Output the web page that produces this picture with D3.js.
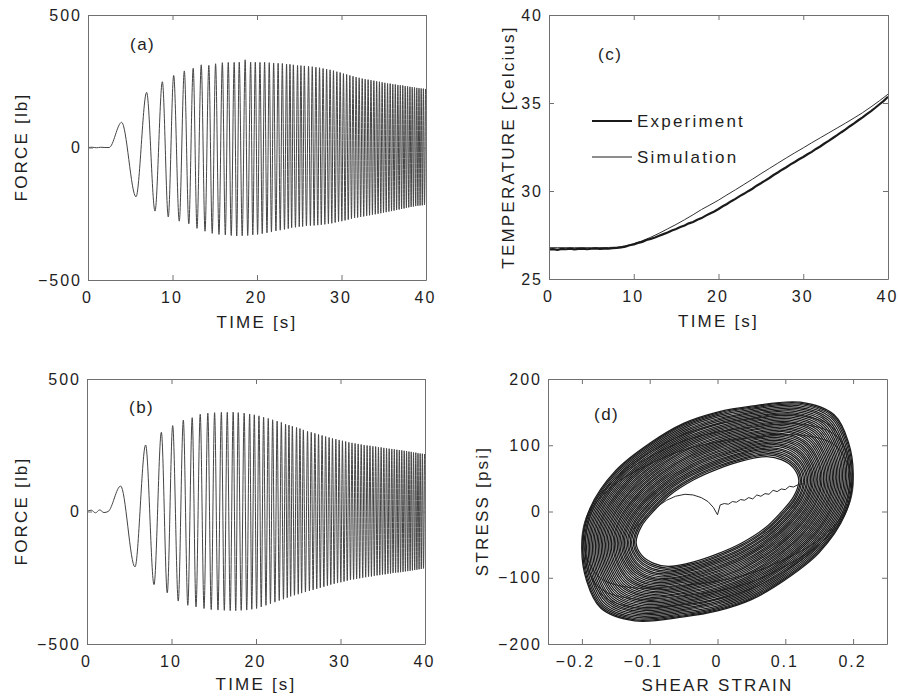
<!DOCTYPE html>
<html><head><meta charset="utf-8">
<script src="https://cdn.jsdelivr.net/npm/d3@7"></script>
<style>
body{margin:0;background:#fff;}
svg text{font-family:"Liberation Sans",Arial,Helvetica,sans-serif;fill:#1e1e1e;}
</style></head><body><svg id="c" width="898" height="698"></svg>
<script>
// ---------- DATA ----------
// Panels (a),(b): force vs time, drawn through the extrema of the swept sine
const preTimes = [0, 0.5, 1.0, 1.5, 2.0, 2.5];
const preForceA = [0, 1, -1, 1, 0, 0];
const preForceB = [0, 5, -5, 6, -4, 0];

const maxTimes = [3.98, 6.94, 8.8, 10.14, 11.4, 12.45, 13.4, 14.3, 15.1, 15.9,
  16.6, 17.3, 17.9, 18.6, 19.25, 19.8, 20.35, 20.9, 21.45, 21.97,
  22.5, 23.0, 23.5, 23.9, 24.3, 24.8, 25.2, 25.6, 26.1,
  26.54, 26.97, 27.40, 27.82, 28.24, 28.65, 29.05, 29.45, 29.84, 30.23,
  30.61, 30.99, 31.36, 31.73, 32.09, 32.45, 32.80, 33.15, 33.49, 33.83,
  34.16, 34.49, 34.81, 35.13, 35.45, 35.76, 36.07, 36.37, 36.67, 36.96,
  37.25, 37.54, 37.82, 38.10, 38.37, 38.64, 38.91, 39.17, 39.43, 39.69, 39.94];
const minTimes = [5.68, 7.93, 9.5, 10.8, 11.93, 12.9, 13.85, 14.7, 15.5, 16.25,
  16.95, 17.6, 18.25, 18.9, 19.5, 20.07, 20.62, 21.18, 21.71, 22.24,
  22.75, 23.25, 23.7, 24.1, 24.55, 25.0, 25.4, 25.85,
  26.32, 26.76, 27.19, 27.61, 28.03, 28.45, 28.85, 29.25, 29.65, 30.04,
  30.42, 30.80, 31.18, 31.55, 31.91, 32.27, 32.63, 32.98, 33.32, 33.66,
  34.0, 34.33, 34.65, 34.97, 35.29, 35.61, 35.92, 36.22, 36.52, 36.82,
  37.11, 37.40, 37.68, 37.96, 38.24, 38.51, 38.78, 39.04, 39.30, 39.56, 39.82];

const maxForceA = [95, 208, 248, 272, 289, 299, 312, 310, 316, 320,
  321, 321, 322, 331, 322, 322, 321, 322, 320, 319,
  318, 317, 315, 314, 312, 310, 309, 308, 307,
  305, 303, 301, 298, 296, 293, 290, 286, 283, 279,
  276, 272, 269, 266, 263, 260, 258, 256, 254, 252,
  250, 248, 246, 244, 242, 241, 239, 238, 236, 235,
  234, 232, 231, 229, 228, 227, 225, 224, 223, 222, 221];
const minForceA = [-186, -240, -262, -278, -288, -305, -316, -324, -328, -330,
  -332, -334, -333, -332, -330, -328, -325, -322, -319, -315,
  -312, -309, -306, -303, -301, -299, -298, -296,
  -295, -294, -293, -292, -290, -288, -286, -283, -280, -278,
  -275, -272, -269, -266, -264, -262, -260, -258, -256, -254,
  -252, -250, -248, -246, -244, -242, -240, -238, -236, -234,
  -232, -230, -228, -226, -224, -223, -221, -220, -219, -218, -217];

const maxForceB = [96, 251, 299, 324, 345, 354, 367, 371, 373, 374,
  374, 375, 373, 371, 368, 365, 361, 356, 351, 346,
  341, 336, 330, 326, 322, 317, 313, 308, 303,
  299, 295, 291, 287, 283, 279, 276, 273, 270, 267,
  264, 261, 259, 257, 255, 253, 251, 249, 248, 246,
  245, 243, 242, 240, 239, 237, 236, 235, 233, 232,
  231, 229, 228, 226, 225, 223, 222, 220, 219, 218, 217];
const minForceB = [-209, -276, -307, -338, -354, -360, -366, -370, -372, -373,
  -374, -374, -373, -372, -369, -366, -360, -354, -348, -342,
  -336, -331, -325, -320, -316, -312, -308, -304,
  -300, -296, -292, -288, -284, -280, -276, -273, -270, -267,
  -264, -261, -258, -256, -254, -252, -250, -248, -246, -245,
  -243, -241, -240, -238, -237, -235, -234, -232, -231, -230,
  -229, -228, -226, -225, -224, -222, -221, -220, -218, -217, -215];

// Panel (c): temperature
const expTimes = [0,0.5,1,1.5,2,2.5,3,3.5,4,4.5,5,5.5,6,6.5,7,7.5,8,8.5,9,9.5,
  10,10.5,11,11.5,12,12.5,13,13.5,14,14.5,15,15.5,16,16.5,17,17.5,18,18.5,19,19.5,
  20,20.5,21,21.5,22,22.5,23,23.5,24,24.5,25,25.5,26,26.5,27,27.5,28,28.5,29,29.5,
  30,30.5,31,31.5,32,32.5,33,33.5,34,34.5,35,35.5,36,36.5,37,37.5,38,38.5,39,39.5,40];
const expTemp = [26.68,26.70,26.66,26.71,26.69,26.72,26.68,26.71,26.73,26.69,
  26.72,26.74,26.71,26.73,26.72,26.75,26.76,26.80,26.84,26.92,
  26.97,27.05,27.11,27.22,27.28,27.36,27.46,27.55,27.64,27.76,
  27.84,27.95,28.04,28.16,28.24,28.37,28.46,28.60,28.72,28.84,
  28.98,29.13,29.26,29.42,29.55,29.71,29.84,29.99,30.13,30.30,
  30.44,30.59,30.74,30.91,31.05,31.21,31.35,31.51,31.65,31.80,
  31.93,32.09,32.22,32.39,32.53,32.70,32.85,33.01,33.17,33.34,
  33.50,33.68,33.84,34.02,34.18,34.37,34.54,34.73,34.93,35.12,35.35];
const simTimes = [0,1,2,3,4,5,6,7,8,9,10,11,12,13,14,15,16,17,18,19,20,
  21,22,23,24,25,26,27,28,29,30,31,32,33,34,35,36,37,38,39,40];
const simTemp = [26.78,26.78,26.78,26.78,26.78,26.78,26.78,26.79,26.81,26.88,27.0,
  27.17,27.37,27.6,27.85,28.1,28.37,28.65,28.95,29.21,29.48,
  29.78,30.07,30.37,30.67,30.98,31.28,31.58,31.88,32.17,32.45,
  32.74,33.02,33.3,33.58,33.86,34.15,34.45,34.78,35.13,35.5];

// Panel (d): hysteresis loops — outer edge and inner hole of the loop band
const outerLoopStrain = [0.200, 0.193, 0.172, 0.122, 0.050, 0.000, -0.050, -0.100, -0.150, -0.188,
  -0.200, -0.193, -0.172, -0.122, -0.050, 0.000, 0.050, 0.100, 0.150, 0.188];
const outerLoopStress = [50, 105, 146, 165, 159, 150, 133, 103, 62, 5,
  -50, -105, -146, -165, -159, -150, -133, -103, -62, -5];
const innerLoopStrain = [0.120, 0.112, 0.095, 0.073, 0.035, 0.000, -0.035, -0.070, -0.092, -0.112,
  -0.120, -0.112, -0.095, -0.073, -0.035, 0.000, 0.035, 0.070, 0.092, 0.112];
const innerLoopStress = [47, 66, 78, 83, 76, 64, 48, 25, 3, -22,
  -47, -66, -78, -83, -76, -64, -48, -25, -3, 22];
// position of each recorded loop inside the band (0 = hole edge, 1 = outer edge)
const loopBandPos = [0, 0.028, 0.052, 0.083, 0.108, 0.137, 0.161, 0.19, 0.218, 0.243,
  0.268, 0.297, 0.322, 0.349, 0.377, 0.404, 0.428, 0.457, 0.483, 0.51,
  0.538, 0.563, 0.591, 0.618, 0.644, 0.671, 0.698, 0.724, 0.751, 0.779,
  0.804, 0.832, 0.858, 0.884, 0.911, 0.938, 0.962, 0.983, 1.0];
// a few early, wider loops that leave the band at both ends
const extraLoopStrainScale = [1.0, 0.99, 0.975];
const extraLoopStressScale = [0.8, 0.7, 0.88];
const transStrain = [-0.125, -0.114, -0.100, -0.088, -0.075, -0.062, -0.048, -0.036, -0.024, -0.014, -0.006,
  0.000, 0.004, 0.010, 0.016, 0.022, 0.028, 0.034, 0.040, 0.046, 0.052, 0.058, 0.064,
  0.070, 0.076, 0.082, 0.088, 0.094, 0.100, 0.106, 0.112, 0.120, 0.128];
const transStress = [-28, -18, -3, 8, 17, 23, 26, 25, 21, 15, 6,
  -5, 10, 12, 11, 15, 14, 18, 17, 21, 19, 25, 23,
  27, 26, 32, 30, 34, 33, 38, 37, 41, 42];

// ---------- DRAWING ----------
const svg = d3.select("#c");
const FRAME = "#707070";

function makePanel(cfg) {
  const x = d3.scaleLinear().domain(cfg.xDomain).range([cfg.left, cfg.right]);
  const y = d3.scaleLinear().domain(cfg.yDomain).range([cfg.bottom, cfg.top]);
  const g = svg.append("g");
  svg.append("clipPath").attr("id", "clip" + cfg.id).append("rect")
    .attr("x", cfg.left).attr("y", cfg.top)
    .attr("width", cfg.right - cfg.left).attr("height", cfg.bottom - cfg.top);
  const plot = g.append("g").attr("clip-path", `url(#clip${cfg.id})`);
  const axes = g.append("g");
  const fx = cfg.xFmt || (d => String(d));
  const fy = cfg.yFmt || (d => d < 0 ? "\u2212" + Math.abs(d) : String(d));
  const b = axes.append("g").attr("transform", `translate(0,${cfg.bottom})`)
    .call(d3.axisBottom(x).tickValues(cfg.xTicks).tickSize(-5).tickSizeOuter(0).tickPadding(12).tickFormat(fx));
  axes.append("g").attr("transform", `translate(0,${cfg.top})`)
    .call(d3.axisTop(x).tickValues(cfg.xTicks).tickSize(-5).tickSizeOuter(0).tickFormat(""));
  axes.append("g").attr("transform", `translate(${cfg.left},0)`)
    .call(d3.axisLeft(y).tickValues(cfg.yTicks).tickSize(-5).tickSizeOuter(0).tickPadding(6).tickFormat(fy));
  axes.append("g").attr("transform", `translate(${cfg.right},0)`)
    .call(d3.axisRight(y).tickValues(cfg.yTicks).tickSize(-5).tickSizeOuter(0).tickFormat(""));
  axes.selectAll("path.domain").attr("stroke", FRAME).attr("stroke-width", 1);
  axes.selectAll(".tick line").attr("stroke", FRAME).attr("stroke-width", 1);
  axes.selectAll("g").attr("font-family", null).attr("font-size", null);
  axes.selectAll(".tick text").style("font-size", "16px").style("letter-spacing", "2px").attr("fill", "#1e1e1e");
  b.selectAll(".tick text").attr("dx", d => d < 0 ? -7 : -1);
  g.append("text").attr("x", (cfg.left + cfg.right) / 2).attr("y", cfg.xLabelY)
    .attr("text-anchor", "middle").style("font-size", "17px").style("letter-spacing", "2.2px").text(cfg.xLabel);
  g.append("text").attr("transform", `translate(${cfg.yLabelX},${cfg.yLabelCY}) rotate(-90)`)
    .attr("text-anchor", "middle").style("font-size", "17px").style("letter-spacing", "2.2px").text(cfg.yLabel);
  g.append("text").attr("x", cfg.tagX).attr("y", cfg.tagY)
    .style("font-size", "17px").style("letter-spacing", "1.5px").text(cfg.tag);
  return { x, y, plot, g };
}

function forceSeries(pT, pV, mxT, mxV, mnT, mnV) {
  const pts = pT.map((t, i) => [t, pV[i]])
    .concat(mxT.map((t, i) => [t, mxV[i]]))
    .concat(mnT.map((t, i) => [t, mnV[i]]));
  pts.sort((a, b) => a[0] - b[0]);
  return pts;
}

// (a)
const pa = makePanel({ id: "a", left: 88, right: 426, top: 15, bottom: 280,
  xDomain: [0, 40], yDomain: [-500, 500], xTicks: [0, 10, 20, 30, 40], yTicks: [-500, 0, 500],
  xLabel: "TIME [s]", xLabelY: 328, yLabel: "FORCE [lb]", yLabelX: 27, yLabelCY: 147,
  tag: "(a)", tagX: 130, tagY: 50 });
pa.plot.append("path")
  .datum(forceSeries(preTimes, preForceA, maxTimes, maxForceA, minTimes, minForceA))
  .attr("fill", "none").attr("stroke", "#444").attr("stroke-width", 1)
  .attr("d", d3.line().x(d => pa.x(d[0])).y(d => pa.y(d[1])).curve(d3.curveMonotoneX));

// (b)
const pb = makePanel({ id: "b", left: 87, right: 425, top: 379, bottom: 644,
  xDomain: [0, 40], yDomain: [-500, 500], xTicks: [0, 10, 20, 30, 40], yTicks: [-500, 0, 500],
  xLabel: "TIME [s]", xLabelY: 690, yLabel: "FORCE [lb]", yLabelX: 27, yLabelCY: 511,
  tag: "(b)", tagX: 129, tagY: 413 });
pb.plot.append("path")
  .datum(forceSeries(preTimes, preForceB, maxTimes, maxForceB, minTimes, minForceB))
  .attr("fill", "none").attr("stroke", "#444").attr("stroke-width", 1)
  .attr("d", d3.line().x(d => pb.x(d[0])).y(d => pb.y(d[1])).curve(d3.curveMonotoneX));

// (c)
const pc = makePanel({ id: "c", left: 549, right: 888, top: 15, bottom: 279,
  xDomain: [0, 40], yDomain: [25, 40], xTicks: [0, 10, 20, 30, 40], yTicks: [25, 30, 35, 40],
  xLabel: "TIME [s]", xLabelY: 327, yLabel: "TEMPERATURE [Celcius]", yLabelX: 514, yLabelCY: 147,
  tag: "(c)", tagX: 598, tagY: 60 });
pc.plot.append("path").datum(simTimes.map((t, i) => [t, simTemp[i]]))
  .attr("fill", "none").attr("stroke", "#333").attr("stroke-width", 1)
  .attr("d", d3.line().x(d => pc.x(d[0])).y(d => pc.y(d[1])).curve(d3.curveMonotoneX));
pc.plot.append("path").datum(expTimes.map((t, i) => [t, expTemp[i]]))
  .attr("fill", "none").attr("stroke", "#1a1a1a").attr("stroke-width", 2.2)
  .attr("d", d3.line().x(d => pc.x(d[0])).y(d => pc.y(d[1])));
const legend = [{ name: "Experiment", w: 2.2, y: 121 }, { name: "Simulation", w: 1, y: 157 }];
legend.forEach(e => {
  pc.g.append("line").attr("x1", 592).attr("x2", 632).attr("y1", e.y).attr("y2", e.y)
    .attr("stroke", "#1a1a1a").attr("stroke-width", e.w);
  pc.g.append("text").attr("x", 637).attr("y", e.y + 6)
    .style("font-size", "17px").style("letter-spacing", "2.2px").text(e.name);
});

// (d)
const pd = makePanel({ id: "d", left: 548, right: 887, top: 379, bottom: 644,
  xDomain: [-0.25, 0.25], yDomain: [-200, 200], xTicks: [-0.2, -0.1, 0, 0.1, 0.2], yTicks: [-200, -100, 0, 100, 200],
  xFmt: d => d === 0 ? "0" : (d < 0 ? "\u2212" : "") + Math.abs(d).toFixed(1),
  xLabel: "SHEAR STRAIN", xLabelY: 691, yLabel: "STRESS [psi]", yLabelX: 488, yLabelCY: 511,
  tag: "(d)", tagX: 594, tagY: 420 });
const loopLine = d3.line().x(d => pd.x(d[0])).y(d => pd.y(d[1])).curve(d3.curveCatmullRomClosed.alpha(0.5));
extraLoopStrainScale.forEach((sx, i) => {
  const sy = extraLoopStressScale[i];
  pd.plot.append("path").datum(outerLoopStrain.map((s, j) => [s * sx, outerLoopStress[j] * sy]))
    .attr("fill", "none").attr("stroke", "#2a2a2a").attr("stroke-width", 0.9).attr("d", loopLine);
});
loopBandPos.forEach(w => {
  const pts = innerLoopStrain.map((s, j) => [
    s + w * (outerLoopStrain[j] - s),
    innerLoopStress[j] + w * (outerLoopStress[j] - innerLoopStress[j])]);
  pd.plot.append("path").datum(pts).attr("fill", "none")
    .attr("stroke", "#1c1c1c").attr("stroke-width", 1.25).attr("d", loopLine);
});
pd.plot.append("path").datum(transStrain.map((s, i) => [s, transStress[i]]))
  .attr("fill", "none").attr("stroke", "#2a2a2a").attr("stroke-width", 1)
  .attr("d", d3.line().x(d => pd.x(d[0])).y(d => pd.y(d[1])));
</script></body></html>
